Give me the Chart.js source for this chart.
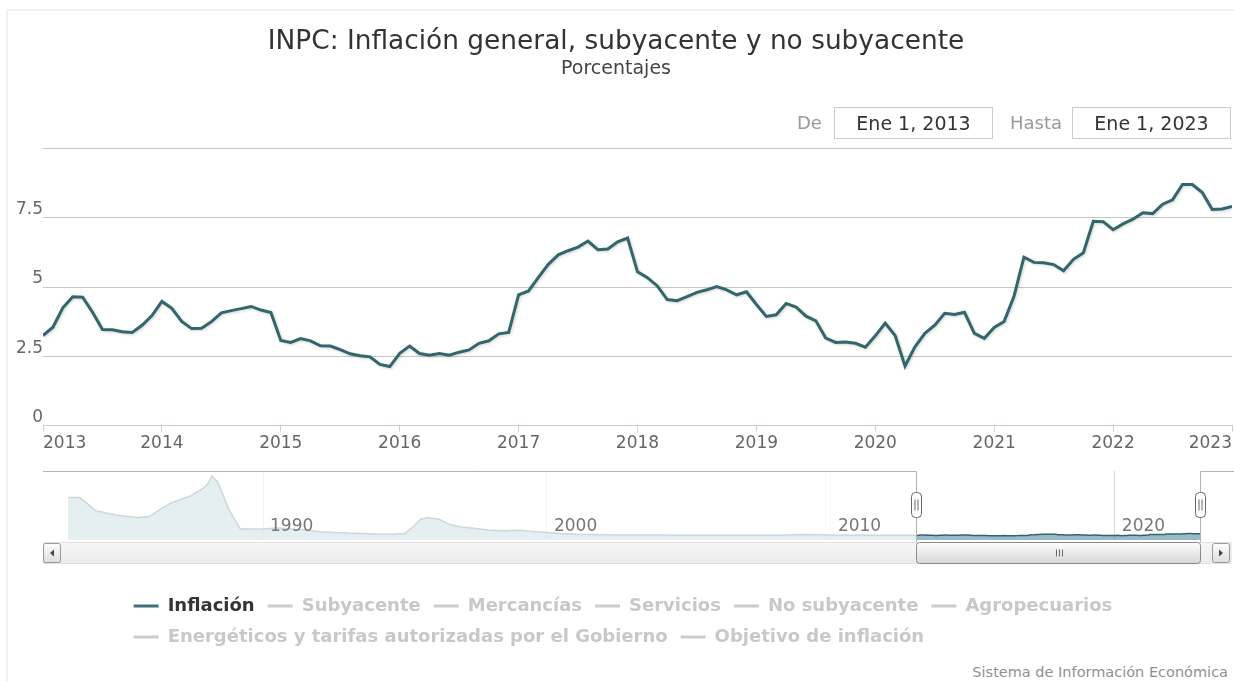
<!DOCTYPE html>
<html>
<head>
<meta charset="utf-8">
<script src="https://cdn.jsdelivr.net/npm/chart.js@4.4.0/dist/chart.umd.min.js"></script>
<style>
html, body { margin: 0; padding: 0; background: #fff; overflow: hidden; }
body { width: 1234px; height: 681px; position: relative; font-family: "DejaVu Sans", sans-serif; }
#marco { position: absolute; left: 6px; top: 9px; right: -10px; bottom: -10px; border-top: 2px solid #f2f2f2; border-left: 2px solid #f2f2f2; }
#principal { position: absolute; left: 0; top: 0; width: 1234px; height: 460px; }
#navegador { position: absolute; left: 0; top: 460px; width: 1234px; height: 196px; }
.etq { position: absolute; top: 109px; font-size: 18px; color: #999; line-height: 28px; }
.caja { position: absolute; top: 107px; height: 30px; border: 1px solid #ccc; font-size: 19px; color: #333; text-align: center; line-height: 30px; background: #fff; }
#credito { position: absolute; right: 6px; top: 664px; font-size: 14.5px; color: #909090; }
</style>
</head>
<body>
<div id="marco"></div>
<div id="principal"><canvas id="grafica"></canvas></div>
<div id="navegador"><canvas id="nav"></canvas></div>
<div class="etq" style="left:797px">De</div>
<div class="caja" style="left:834px;width:157px">Ene 1, 2013</div>
<div class="etq" style="left:1010px">Hasta</div>
<div class="caja" style="left:1072px;width:157px">Ene 1, 2023</div>
<div id="credito">Sistema de Información Económica</div>

<script>
const fuente = '"DejaVu Sans", sans-serif';
Chart.defaults.font.family = fuente;

// Inflación anual mensual, ene 2013 - ene 2023
const anioInicio = 2013;
const inflacion = [
    3.25, 3.55, 4.25, 4.65, 4.63, 4.09, 3.47, 3.46, 3.39, 3.36, 3.62, 3.97,
    4.48, 4.23, 3.76, 3.50, 3.51, 3.75, 4.07, 4.15, 4.22, 4.30, 4.17, 4.08,
    3.07, 3.00, 3.14, 3.06, 2.88, 2.87, 2.74, 2.59, 2.52, 2.48, 2.21, 2.13,
    2.61, 2.87, 2.60, 2.54, 2.60, 2.54, 2.65, 2.73, 2.97, 3.06, 3.31, 3.36,
    4.72, 4.86, 5.35, 5.82, 6.16, 6.31, 6.44, 6.66, 6.35, 6.37, 6.63, 6.77,
    5.55, 5.34, 5.04, 4.55, 4.51, 4.65, 4.81, 4.90, 5.02, 4.90, 4.72, 4.83,
    4.37, 3.94, 4.00, 4.41, 4.28, 3.95, 3.78, 3.16, 3.00, 3.02, 2.97, 2.83,
    3.24, 3.70, 3.25, 2.15, 2.84, 3.33, 3.62, 4.05, 4.01, 4.09, 3.33, 3.15,
    3.54, 3.76, 4.67, 6.08, 5.89, 5.88, 5.81, 5.59, 6.00, 6.24, 7.37, 7.36,
    7.07, 7.28, 7.45, 7.68, 7.65, 7.99, 8.15, 8.70, 8.70, 8.41, 7.80, 7.82,
    7.91
];

// serie historica del navegador (antes de 2013)
const navAnios = [1983.13, 1983.55, 1983.8, 1984.1, 1984.6, 1985.0, 1985.56, 1986.0, 1986.4, 1986.8,
    1987.4, 1987.9, 1988.05, 1988.2, 1988.4, 1988.8, 1989.2, 1989.6, 1990.0, 1990.5,
    1991.0, 1991.5, 1992.0, 1992.5, 1993.0, 1993.5, 1994.0, 1994.5, 1995.0, 1995.3,
    1995.55, 1995.8, 1996.2, 1996.6, 1997.0, 1997.5, 1998.0, 1998.5, 1999.0, 1999.5,
    2000.0, 2000.5, 2001.0, 2001.5, 2002.0, 2003.0, 2004.0, 2005.0, 2006.0, 2007.0,
    2008.0, 2008.7, 2009.2, 2010.0, 2011.0, 2012.0, 2012.9];
const navValores = [113, 113, 96, 75, 66, 60, 55, 58, 80, 99,
    116, 140, 152, 175, 158, 78, 22, 22, 22, 25,
    22, 18, 14, 12, 10, 9, 7.5, 7, 9, 30,
    50, 55, 50, 34, 28, 23, 18, 17, 18, 15,
    12, 9, 7, 6, 5, 4.5, 4.5, 4, 4, 4,
    4, 5.5, 6, 4.5, 3.5, 4, 3.7];

const rangoDe = 2013;
const rangoHasta = 2023;

const series = ['Inflación', 'Subyacente', 'Mercancías', 'Servicios', 'No subyacente',
    'Agropecuarios', 'Energéticos y tarifas autorizadas por el Gobierno', 'Objetivo de inflación'];

const colorLinea = '#31666c';
const sepLeyenda = 13;

const puntos = inflacion.map((v, i) => ({x: anioInicio + i / 12, y: v}));
const navPuntos = navAnios.map((a, i) => ({x: a, y: navValores[i]})).concat(puntos);

const sombra = {
    id: 'sombra',
    beforeDatasetsDraw(chart) {
        const c = chart.ctx;
        c.save();
        c.shadowColor = 'rgba(0,0,0,0.18)';
        c.shadowBlur = 3;
        c.shadowOffsetX = 1;
        c.shadowOffsetY = 1;
    },
    afterDatasetsDraw(chart) {
        chart.ctx.restore();
    }
};

new Chart(document.getElementById('grafica').getContext('2d'), {
    type: 'line',
    data: {
        datasets: [{
            label: 'Inflación',
            data: puntos,
            borderColor: colorLinea,
            borderWidth: 3,
            pointRadius: 0,
            tension: 0,
            fill: false
        }]
    },
    options: {
        responsive: true,
        maintainAspectRatio: false,
        animation: false,
        layout: { padding: { left: 0, right: 2, top: 0, bottom: 4 } },
        plugins: {
            legend: { display: false },
            tooltip: { enabled: false },
            title: {
                display: true,
                text: 'INPC: Inflación general, subyacente y no subyacente',
                color: '#333',
                font: { size: 26.4, weight: 'normal' },
                padding: { top: 26, bottom: 0 }
            },
            subtitle: {
                display: true,
                text: 'Porcentajes',
                color: '#444',
                font: { size: 19 },
                padding: { top: 0, bottom: 68 }
            }
        },
        scales: {
            x: {
                type: 'linear',
                min: rangoDe,
                max: rangoHasta,
                grid: { drawOnChartArea: false, drawTicks: true, tickLength: 6, color: '#C0D0E0' },
                border: { color: '#C0D0E0' },
                ticks: {
                    stepSize: 1, align: 'inner', padding: 2, maxRotation: 0, autoSkip: false,
                    color: '#666', font: { size: 17 },
                    callback: v => String(v)
                }
            },
            y: {
                min: 0,
                max: 10,
                afterFit: s => { s.width = 43; },
                grid: { color: '#c6c6c6', drawTicks: false },
                border: { display: false },
                ticks: {
                    stepSize: 2.5, padding: 0, labelOffset: -8,
                    color: '#666', font: { size: 17 },
                    callback: v => v === 10 ? '' : String(v)
                }
            }
        }
    },
    plugins: [sombra]
});

const navegador = {
    id: 'navegador',
    afterLayout(chart) {
        // leyenda centrada como bloque, filas alineadas a la izquierda
        const lg = chart.legend;
        const w = lg.lineWidths[0] - sepLeyenda;
        lg.left = 623 - w / 2 - sepLeyenda;
    },
    afterDatasetsDraw(chart) {
        const {ctx, chartArea: a, scales: {x}} = chart;
        const x0 = Math.round(x.getPixelForValue(rangoDe)) + 0.5;
        const x1 = Math.round(x.getPixelForValue(rangoHasta)) + 0.5;
        ctx.save();
        ctx.fillStyle = 'rgba(255,255,255,0.75)';
        ctx.fillRect(a.left, a.top, x0 - a.left, a.bottom - a.top + 1);
        if (x1 < a.right) ctx.fillRect(x1, a.top, a.right - x1, a.bottom - a.top + 1);

        ctx.fillStyle = '#777';
        ctx.font = '17px ' + fuente;
        ctx.textBaseline = 'middle';
        x.ticks.forEach(t => {
            ctx.fillText(String(t.value), x.getPixelForValue(t.value) + 7, a.bottom - 13);
        });

        ctx.strokeStyle = '#b2b1b6';
        ctx.lineWidth = 1;
        ctx.beginPath();
        ctx.moveTo(a.left, a.top + 0.5);
        ctx.lineTo(x0, a.top + 0.5);
        ctx.lineTo(x0, a.bottom + 2);
        ctx.moveTo(x1, a.bottom + 2);
        ctx.lineTo(x1, a.top + 0.5);
        ctx.lineTo(chart.width, a.top + 0.5);
        ctx.stroke();

        // barra de desplazamiento
        const sy = a.bottom + 2.5, sh = 21;
        let g = ctx.createLinearGradient(0, sy, 0, sy + sh);
        g.addColorStop(0, '#f7f7f7');
        g.addColorStop(1, '#ebebeb');
        ctx.fillStyle = g;
        ctx.fillRect(a.left, sy, chart.width - 3 - a.left, sh);
        ctx.strokeStyle = '#e0e0e0';
        ctx.strokeRect(a.left + 0.5, sy, chart.width - 3.5 - a.left, sh);

        const boton = (bx, dir) => {
            const gb = ctx.createLinearGradient(0, sy, 0, sy + sh);
            gb.addColorStop(0, '#ffffff');
            gb.addColorStop(1, '#dcdcdc');
            ctx.fillStyle = gb;
            ctx.strokeStyle = '#999';
            ctx.beginPath();
            ctx.roundRect(bx + 0.5, sy + 1, 17, sh - 2, 2);
            ctx.fill();
            ctx.stroke();
            const cx = bx + 9, cy = sy + sh / 2;
            ctx.fillStyle = '#444';
            ctx.beginPath();
            ctx.moveTo(cx - 2 * dir, cy);
            ctx.lineTo(cx + 2 * dir, cy - 3.5);
            ctx.lineTo(cx + 2 * dir, cy + 3.5);
            ctx.closePath();
            ctx.fill();
        };
        boton(a.left, 1);
        boton(a.right + 12, -1);

        g = ctx.createLinearGradient(0, sy, 0, sy + sh);
        g.addColorStop(0, '#ffffff');
        g.addColorStop(1, '#d6d6d6');
        ctx.fillStyle = g;
        ctx.strokeStyle = '#8a8a8a';
        ctx.beginPath();
        ctx.roundRect(x0, sy, x1 - x0, sh, 3);
        ctx.fill();
        ctx.stroke();
        const mc = Math.round((x0 + x1) / 2) + 0.5;
        ctx.strokeStyle = '#666';
        ctx.beginPath();
        [-3, 0, 3].forEach(d => {
            ctx.moveTo(mc + d, sy + 7);
            ctx.lineTo(mc + d, sy + sh - 7);
        });
        ctx.stroke();

        // asas
        const asa = cx => {
            const w = 10, h = 25, y = a.top + 21.5;
            ctx.fillStyle = '#fff';
            ctx.strokeStyle = '#666';
            ctx.beginPath();
            ctx.roundRect(cx - w / 2, y, w, h, 4);
            ctx.fill();
            ctx.stroke();
            ctx.beginPath();
            ctx.moveTo(cx - 1.5, y + 7);
            ctx.lineTo(cx - 1.5, y + h - 7);
            ctx.moveTo(cx + 1.5, y + 7);
            ctx.lineTo(cx + 1.5, y + h - 7);
            ctx.stroke();
        };
        asa(x0);
        asa(x1);
        ctx.restore();
    }
};

new Chart(document.getElementById('nav').getContext('2d'), {
    type: 'line',
    data: {
        datasets: [{
            label: 'Inflación',
            data: navPuntos,
            borderColor: '#35636d',
            borderWidth: 1.5,
            backgroundColor: 'rgba(70,130,155,0.55)',
            fill: 'start',
            pointRadius: 0,
            tension: 0
        }]
    },
    options: {
        responsive: true,
        maintainAspectRatio: false,
        animation: false,
        layout: { padding: { left: 43, right: 34, top: 11, bottom: 0 } },
        plugins: {
            tooltip: { enabled: false },
            legend: {
                display: true,
                position: 'bottom',
                align: 'start',
                labels: {
                    boxWidth: 25,
                    boxHeight: 3,
                    padding: sepLeyenda,
                    font: { size: 18, weight: 'bold' },
                    generateLabels: () => series.map((t, i) => ({
                        text: t,
                        fillStyle: i === 0 ? '#3d7078' : '#cccccc',
                        strokeStyle: 'rgba(0,0,0,0)',
                        lineWidth: 0,
                        hidden: false,
                        fontColor: i === 0 ? '#333333' : '#c8c8c8',
                        datasetIndex: 0
                    }))
                }
            }
        },
        scales: {
            x: {
                type: 'linear',
                min: 1982.25,
                max: rangoHasta,
                afterBuildTicks: s => { s.ticks = s.ticks.filter(t => t.value % 10 === 0); },
                afterFit: s => { s.height = 44; },
                grid: { color: '#d8d8d8', drawTicks: false },
                border: { display: false },
                ticks: { display: false, stepSize: 10 }
            },
            y: { display: false, min: -10, max: 190 }
        }
    },
    plugins: [navegador]
});
</script>
</body>
</html>
